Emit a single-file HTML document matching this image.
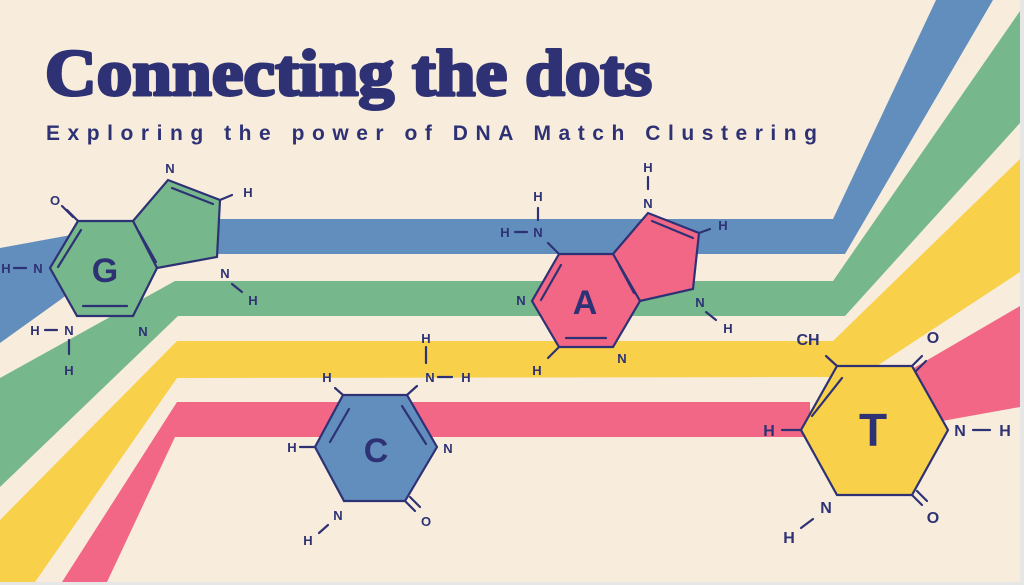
<!DOCTYPE html>
<html><head><meta charset="utf-8"><style>
html,body{margin:0;padding:0;background:#f8eddc;}
svg{display:block}
text{font-family:"Liberation Sans",sans-serif;fill:#2e3275;font-weight:bold}
</style></head><body>
<svg width="1024" height="585" viewBox="0 0 1024 585" xmlns="http://www.w3.org/2000/svg">
<rect width="1024" height="585" fill="#f8eddc"/>
<rect x="1020" y="0" width="4" height="585" fill="#e6e6e6"/>
<rect x="0" y="582" width="1024" height="3" fill="#e6e6e6"/>
<!-- stripes -->
<polygon fill="#628ebe" points="0,248 120,226 215,219 833,219 936,0 993,0 845,254 120,254 60,300 0,343"/>
<polygon fill="#76b78b" points="0,378 175,281 833,281 1020,11 1020,123 845,316 178,316 0,487"/>
<polygon fill="#f8d04a" points="0,520 177,341 833,341 1020,159 1020,272 860,377 177,378 35,582 0,582"/>
<polygon fill="#f26785" points="62,582 177,402 810,402 810,437 175,437 107,582"/>
<polygon fill="#f26785" points="900,376 1020,306 1020,407 920,425 900,440"/>
<g stroke="#2e3275" stroke-width="2.2" fill="none" stroke-linecap="round">
<!-- G -->
<polygon fill="#76b78b" points="133,221 168,180 220,200 217,257 157,268"/>
<polygon fill="#76b78b" points="78,221 133,221 157,268 133,316 77,316 50,268"/>
<line x1="172" y1="188" x2="213" y2="204"/><line x1="139" y1="232" x2="156" y2="262"/>
<line x1="83" y1="306" x2="127" y2="306"/><line x1="58" y1="267" x2="81" y2="230"/>
<line x1="78" y1="221" x2="67" y2="210"/><line x1="73" y1="217" x2="62" y2="206"/>
<line x1="220" y1="200" x2="232" y2="195"/>
<line x1="232" y1="284" x2="242" y2="292"/>
<line x1="14" y1="268" x2="26" y2="268"/>
<line x1="45" y1="330" x2="57" y2="330"/><line x1="69" y1="340" x2="69" y2="354"/>
<!-- A -->
<polygon fill="#f26785" points="613,254 648,213 699,233 693,289 640,301"/>
<polygon fill="#f26785" points="559,254 613,254 640,301 613,347 559,347 532,301"/>
<line x1="652" y1="221" x2="693" y2="238"/><line x1="619" y1="265" x2="634" y2="293"/>
<line x1="566" y1="338" x2="606" y2="338"/><line x1="541" y1="300" x2="561" y2="265"/>
<line x1="699" y1="233" x2="710" y2="229"/><line x1="706" y1="312" x2="716" y2="320"/>
<line x1="559" y1="254" x2="548" y2="243"/><line x1="515" y1="232" x2="527" y2="232"/>
<line x1="538" y1="208" x2="538" y2="220"/><line x1="648" y1="177" x2="648" y2="189"/>
<line x1="559" y1="347" x2="548" y2="358"/>
<!-- C -->
<polygon fill="#628ebe" points="343,395 407,395 437,447 405,501 344,501 315,447"/>
<line x1="330" y1="442" x2="349" y2="409"/><line x1="402" y1="406" x2="426" y2="444"/>
<line x1="343" y1="395" x2="335" y2="388"/><line x1="300" y1="447" x2="315" y2="447"/>
<line x1="407" y1="395" x2="417" y2="386"/><line x1="438" y1="377" x2="452" y2="377"/>
<line x1="426" y1="347" x2="426" y2="363"/>
<line x1="405" y1="501" x2="415" y2="511"/><line x1="410" y1="497" x2="420" y2="507"/>
<line x1="319" y1="533" x2="328" y2="525"/>
<!-- T -->
<polygon fill="#f8d04a" points="837,366 912,366 948,430 912,495 837,495 801,430"/>
<line x1="812" y1="416" x2="842" y2="378"/>
<line x1="837" y1="366" x2="826" y2="356"/>
<line x1="912" y1="366" x2="922" y2="356"/><line x1="916" y1="371" x2="926" y2="361"/>
<line x1="912" y1="495" x2="922" y2="505"/><line x1="917" y1="491" x2="927" y2="501"/>
<line x1="973" y1="430" x2="990" y2="430"/><line x1="782" y1="430" x2="801" y2="430"/>
<line x1="801" y1="528" x2="813" y2="519"/>
</g>
<g font-size="13" text-anchor="middle">
<text x="170" y="173">N</text><text x="248" y="197">H</text><text x="55" y="205">O</text>
<text x="38" y="273">N</text><text x="6" y="273">H</text>
<text x="225" y="278">N</text><text x="253" y="305">H</text>
<text x="35" y="335">H</text><text x="69" y="335">N</text><text x="69" y="375">H</text>
<text x="143" y="336">N</text>
<text x="648" y="172">H</text><text x="648" y="208">N</text><text x="723" y="230">H</text>
<text x="538" y="201">H</text><text x="538" y="237">N</text><text x="505" y="237">H</text>
<text x="521" y="305">N</text><text x="700" y="307">N</text><text x="728" y="333">H</text>
<text x="537" y="375">H</text><text x="622" y="363">N</text>
<text x="426" y="343">H</text><text x="430" y="382">N</text><text x="466" y="382">H</text>
<text x="327" y="382">H</text><text x="292" y="452">H</text><text x="448" y="453">N</text>
<text x="426" y="526">O</text><text x="338" y="520">N</text><text x="308" y="545">H</text>
</g>
<g font-size="16" text-anchor="middle">
<text x="808" y="345">CH</text><text x="933" y="343">O</text>
<text x="960" y="436">N</text><text x="1005" y="436">H</text><text x="769" y="436">H</text>
<text x="933" y="523">O</text><text x="826" y="513">N</text><text x="789" y="543">H</text>
</g>
<g text-anchor="middle">
<text x="105" y="282" font-size="34">G</text>
<text x="585" y="314" font-size="34">A</text>
<text x="376" y="462" font-size="34">C</text>
<text x="873" y="446" font-size="46">T</text>
</g>
<text x="45" y="95" font-size="66" font-family="Liberation Serif" style="font-family:'Liberation Serif',serif;font-weight:900" textLength="607" lengthAdjust="spacingAndGlyphs" stroke="#2e3275" stroke-width="3" stroke-linejoin="round">Connecting the dots</text>
<text x="46" y="140" font-size="21" textLength="771" lengthAdjust="spacing">Exploring the power of DNA Match Clustering</text>
</svg>
</body></html>
